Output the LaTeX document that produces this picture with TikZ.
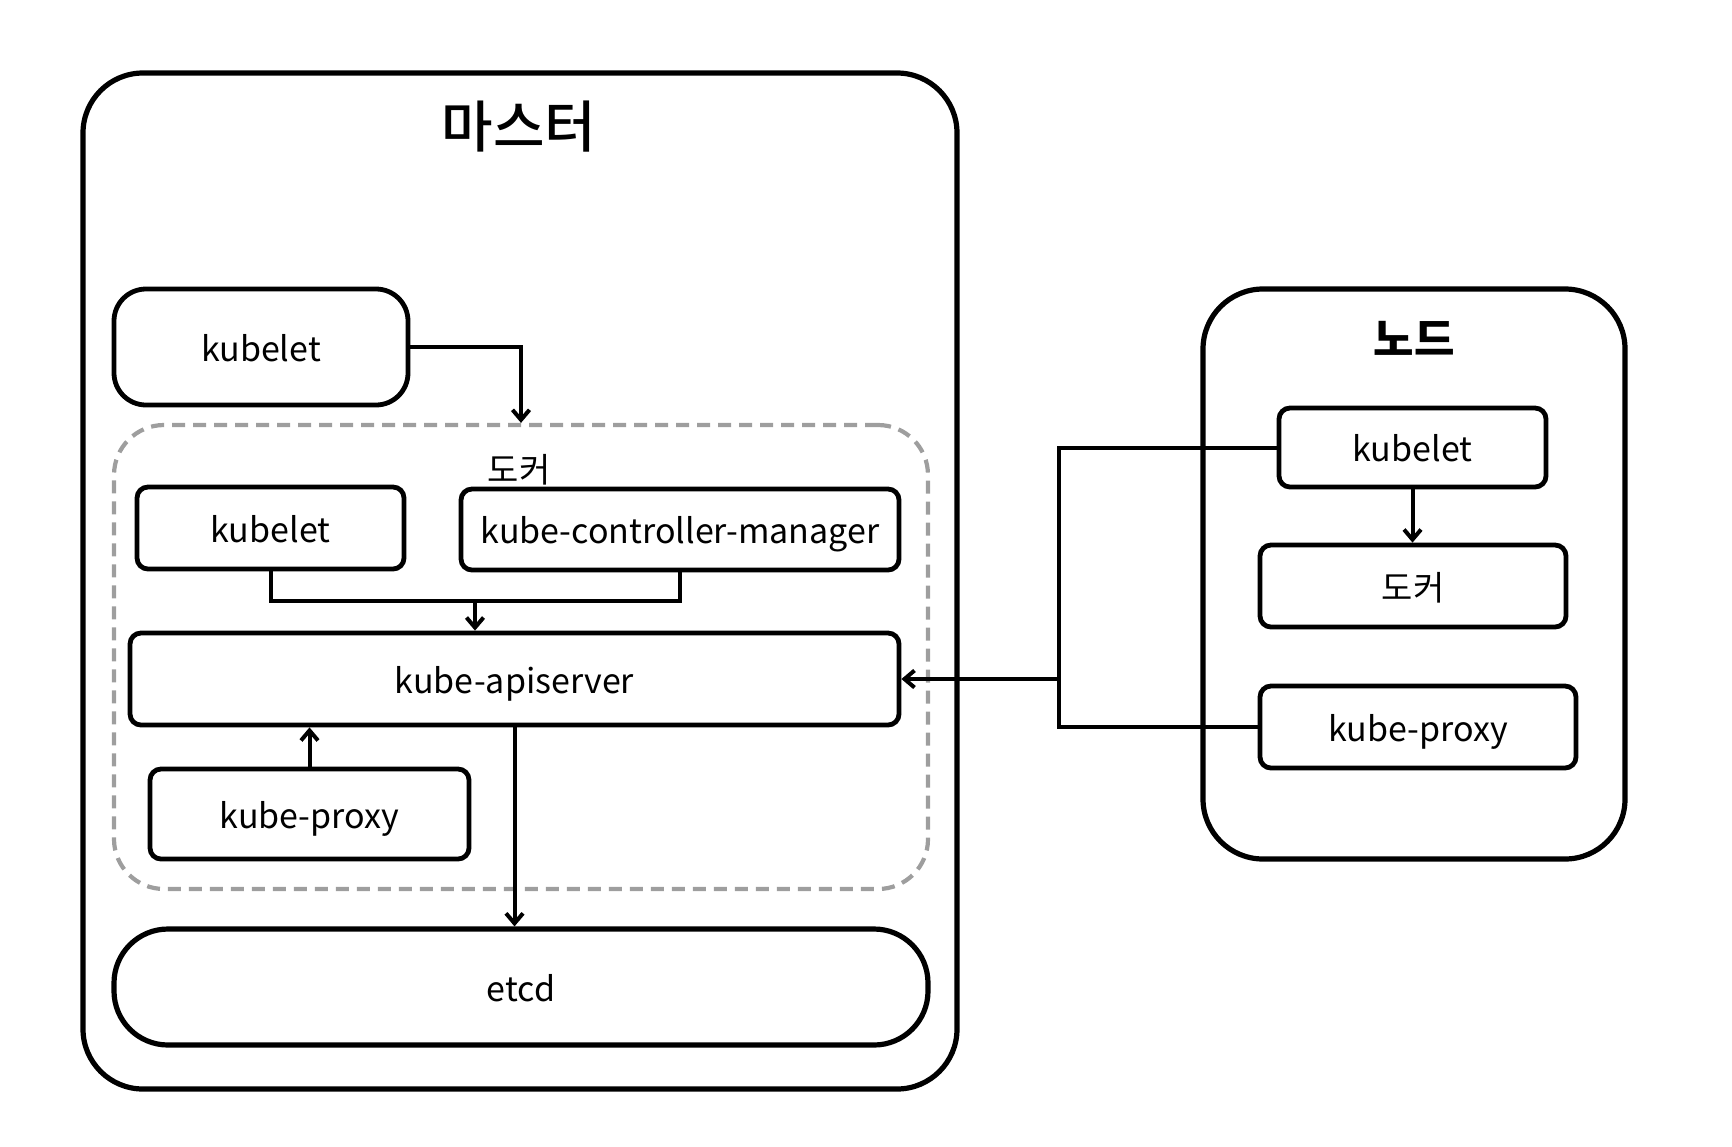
\documentclass[tikz,border=0pt]{standalone}
\usepackage{fontspec}
\setmainfont{Noto Sans CJK KR}
\newfontfamily\titlefont{Noto Sans CJK KR Medium}
\usetikzlibrary{arrows.meta}
\tikzset{
  outerbox/.style={draw, line width=2.6pt, rounded corners=30pt, inner sep=0pt},
  compbox/.style={draw, line width=2.4pt, rounded corners=5.5pt, inner sep=0pt, text height=14pt, text depth=0pt, font=\fontsize{17}{20}\selectfont},
  dockbox/.style={draw=black!38, line width=2.1pt, dash pattern=on 6.5pt off 4pt, rounded corners=25pt, inner sep=0pt},
  conn/.style={line width=2pt},
  arr/.style={conn, -{Straight Barb[length=5pt,width=8.5pt,line width=2pt]}},
  lbl/.style={inner sep=0pt, font=\fontsize{17}{20}\selectfont}
}
\begin{document}
\begin{tikzpicture}[x=0.5pt,y=-0.5pt]
\useasboundingbox (0,0) rectangle (1732,1146);
% master
\node[outerbox, minimum width=437pt, minimum height=508pt] (master) at (520,581) {};
\node[inner sep=0pt, font=\titlefont\fontsize{28}{32}\selectfont] (mtitle) at (519,127) {마스터};
\node[compbox, rounded corners=16pt, minimum width=147pt, minimum height=58pt] (kubtop) at (261,347) {kubelet};
\node[dockbox, minimum width=407pt, minimum height=232pt] (dock) at (521,657) {};
\node[lbl] (docklbl) at (519,470) {도커};
\node[compbox, minimum width=133.5pt, minimum height=41pt] (kub2) at (270.5,528) {kubelet};
\node[compbox, minimum width=219pt, minimum height=40.5pt] (kcm) at (680,529.5) {kube-controller-manager};
\node[compbox, minimum width=384.5pt, minimum height=46pt] (api) at (514.5,679) {kube-apiserver};
\node[compbox, minimum width=159.5pt, minimum height=45pt] (proxy) at (309.5,814) {kube-proxy};
\node[compbox, line width=2.6pt, rounded corners=27pt, minimum width=407pt, minimum height=58pt] (etcd) at (521,987) {etcd};
% node
\node[outerbox, minimum width=211pt, minimum height=285pt] (node) at (1414,574) {};
\node[inner sep=0pt, font=\bfseries\fontsize{22}{26}\selectfont] (ntitle) at (1414,338) {노드};
\node[compbox, minimum width=133.5pt, minimum height=39.5pt] (nkub) at (1412.5,447.5) {kubelet};
\node[compbox, minimum width=153pt, minimum height=41pt] (ndock) at (1413,586) {도커};
\node[compbox, minimum width=158pt, minimum height=41pt] (nproxy) at (1418,727) {kube-proxy};
% connectors
\draw[arr] (kubtop.east) -| (dock.north);
\coordinate (jn) at (475,601);
\draw[conn] (kub2.south) |- (jn) -| (kcm.south);
\draw[arr] (jn) -- (jn |- api.north);
\draw[arr] (proxy.north) -- (proxy.north |- api.south);
\draw[arr] (api.south) -- (api.south |- etcd.north);
\draw[arr] (nkub.south) -- (nkub.south |- ndock.north);
\coordinate (bus) at (1059,679);
\draw[conn] (nkub.west) -| (bus |- nproxy.west) -- (nproxy.west);
\draw[arr] (bus) -- (api.east);
\end{tikzpicture}
\end{document}
